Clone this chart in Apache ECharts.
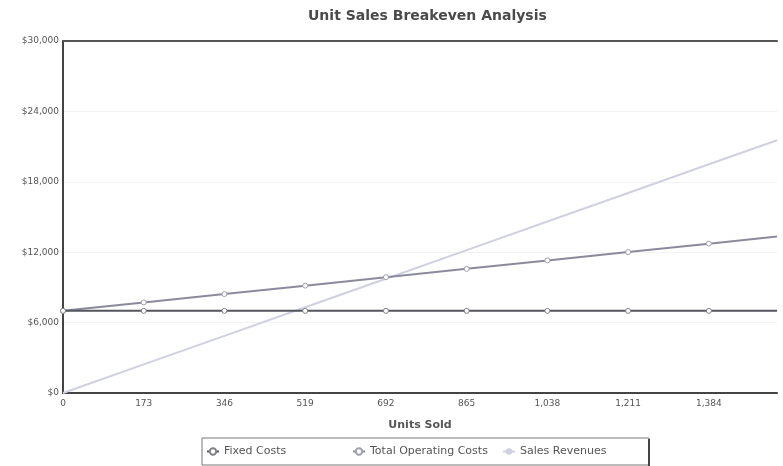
<!DOCTYPE html>
<html>
<head>
<meta charset="utf-8">
<script src="https://cdn.jsdelivr.net/npm/echarts@6/dist/echarts.min.js"></script>
<style>
  html, body { margin: 0; padding: 0; background: #ffffff; }
  #chart { width: 783px; height: 466px; }
</style>
</head>
<body>
<div id="chart"></div>
<script>
// Units sold at each plotted volume (last value is the end of the range)
const unitsSold = [0, 173, 346, 519, 692, 865, 1038, 1211, 1384, 1530];

// Dollar amounts at each volume
const fixedCosts = [7000, 7000, 7000, 7000, 7000, 7000, 7000, 7000, 7000, 7000];
const totalOperatingCosts = [7000, 7720, 8430, 9150, 9870, 10580, 11300, 12010, 12730, 13340];
const salesRevenues = [0, 2440, 4870, 7310, 9740, 12180, 14620, 17050, 19490, 21540];

// Axis ticks
const xTickStep = 173;
const xMax = 1530;
const yTicks = [0, 6000, 12000, 18000, 24000, 30000];

const seriesNames = ['Fixed Costs', 'Total Operating Costs', 'Sales Revenues'];

const fmtDollar = v => '$' + Number(v).toLocaleString('en-US');
const fmtUnits = v => Number(v).toLocaleString('en-US');

// Pair units with amounts; the range end carries no marker
const pairs = (ys, marked) => unitsSold.map((u, i) => {
  const item = { value: [u, ys[i]] };
  if (!marked || i === unitsSold.length - 1) item.symbol = 'none';
  return item;
});

const chart = echarts.init(document.getElementById('chart'), null, { renderer: 'canvas' });

const legendText = { fontFamily: 'DejaVu Sans', fontSize: 11, color: '#555' };

chart.setOption({
  animation: false,
  backgroundColor: '#ffffff',
  title: {
    text: 'Unit Sales Breakeven Analysis',
    left: 308,
    top: 9,
    padding: 0,
    textStyle: { fontFamily: 'DejaVu Sans', fontWeight: 'bold', fontSize: 14, color: '#4a4a4a' }
  },
  grid: { left: 63, right: 6, top: 41, bottom: 73, containLabel: false },
  legend: [
    { data: [seriesNames[0]], left: 206, top: 446, itemWidth: 12, itemHeight: 8, itemGap: 4, padding: 0, textStyle: legendText },
    { data: [seriesNames[1]], left: 352, top: 446, itemWidth: 12, itemHeight: 8, itemGap: 4, padding: 0, textStyle: legendText },
    { data: [seriesNames[2]], left: 502, top: 446, itemWidth: 12, itemHeight: 8, itemGap: 4, padding: 0, textStyle: legendText }
  ],
  graphic: [
    {
      type: 'rect',
      shape: { x: 202, y: 438, width: 447, height: 27 },
      style: { fill: 'none', stroke: '#777', lineWidth: 1 },
      z: -1
    },
    {
      type: 'line',
      shape: { x1: 649, y1: 439, x2: 649, y2: 466 },
      style: { stroke: '#444', lineWidth: 2 }
    }
  ],
  xAxis: [
    {
      type: 'value',
      min: 0,
      max: xMax,
      interval: xTickStep,
      name: 'Units Sold',
      nameLocation: 'middle',
      nameGap: 27,
      nameTextStyle: { fontFamily: 'DejaVu Sans', fontWeight: 'bold', fontSize: 11, color: '#555' },
      axisLine: { show: true, onZero: false, lineStyle: { color: '#444', width: 2 } },
      axisTick: { show: false },
      axisLabel: {
        fontFamily: 'DejaVu Sans', fontSize: 9, color: '#555', margin: 6,
        showMaxLabel: false,
        formatter: v => (v % xTickStep === 0 ? fmtUnits(v) : '')
      },
      splitLine: { show: false }
    },
    {
      type: 'value',
      min: 0,
      max: xMax,
      interval: xTickStep,
      position: 'top',
      axisLine: { show: true, onZero: false, lineStyle: { color: '#555', width: 2 } },
      axisTick: { show: false },
      axisLabel: { show: false },
      splitLine: { show: false }
    }
  ],
  yAxis: {
    type: 'value',
    min: yTicks[0],
    max: yTicks[yTicks.length - 1],
    interval: yTicks[1] - yTicks[0],
    axisLine: { show: true, onZero: false, lineStyle: { color: '#444', width: 2 } },
    axisTick: { show: false },
    axisLabel: { fontFamily: 'DejaVu Sans', fontSize: 9, color: '#555', margin: 4, formatter: fmtDollar },
    splitLine: { show: true, lineStyle: { color: '#f3f3f6', width: 1 } }
  },
  series: [
    {
      name: seriesNames[2],
      type: 'line',
      data: pairs(salesRevenues, false),
      symbol: 'none',
      lineStyle: { color: '#cfd0e0', width: 2 },
      itemStyle: { color: '#cfd0e0' },
      z: 1
    },
    {
      name: seriesNames[1],
      type: 'line',
      data: pairs(totalOperatingCosts, true),
      symbol: 'circle',
      symbolSize: 5,
      showAllSymbol: true,
      lineStyle: { color: '#8a8a9c', width: 2 },
      itemStyle: { color: '#ffffff', borderColor: '#a0a0ae', borderWidth: 1 },
      z: 2
    },
    {
      name: seriesNames[0],
      type: 'line',
      data: pairs(fixedCosts, true),
      symbol: 'circle',
      symbolSize: 5,
      showAllSymbol: true,
      lineStyle: { color: '#56565f', width: 2 },
      itemStyle: { color: '#ffffff', borderColor: '#808088', borderWidth: 1 },
      z: 3
    }
  ]
});
</script>
</body>
</html>
